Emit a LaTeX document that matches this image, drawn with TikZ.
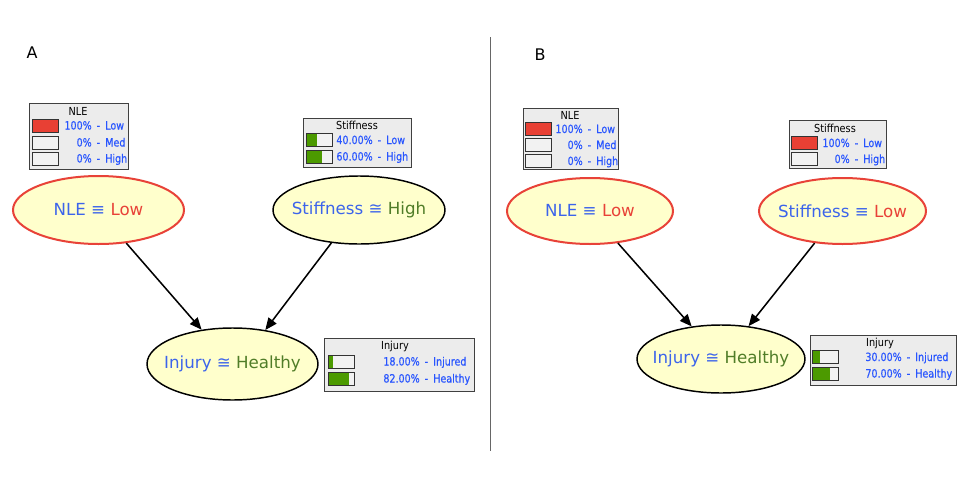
\documentclass[tikz,border=0pt]{standalone}
\usepackage{fontspec}
\setmainfont{DejaVu Sans}
\newfontfamily\boxfont[FakeStretch=0.84,FakeBold=0.5]{DejaVu Sans}
\newfontfamily\ttlfont[FakeStretch=0.88]{DejaVu Sans}
\usetikzlibrary{arrows.meta,calc,shapes.geometric}
\definecolor{nodefill}{RGB}{255,255,204}
\definecolor{lblblue}{RGB}{60,100,235}
\definecolor{lblred}{RGB}{232,66,56}
\definecolor{lblgreen}{RGB}{80,125,40}
\definecolor{txtblue}{RGB}{40,85,255}
\definecolor{barred}{RGB}{232,64,52}
\definecolor{bargreen}{RGB}{76,154,0}
\definecolor{boxbg}{RGB}{236,236,236}
\definecolor{barbg}{RGB}{242,242,242}
\def\px{*0.75pt}
\tikzset{
  bnode/.style={ellipse, draw=black, line width=1.1pt, fill=nodefill, inner sep=0pt,
    font=\fontsize{12.5}{15}\selectfont},
  evid/.style={bnode, draw=lblred, line width=1.5pt},
  pbox/.style={draw=black!75, fill=boxbg, line width=0.75pt, inner sep=0pt},
  barbox/.style 2 args={draw=black!80, fill=barbg, line width=0.75pt,
    minimum width=26\px, minimum height=13\px, inner sep=0pt,
    path picture={\fill[#1] (path picture bounding box.south west) rectangle
      ($(path picture bounding box.north west)!#2!(path picture bounding box.north east)$);}},
  ttl/.style={inner sep=0pt, text=black, font=\ttlfont\fontsize{8.3}{10}\selectfont},
  pct/.style={anchor=base east, inner sep=0pt, text=txtblue, font=\boxfont\fontsize{8.5}{10}\selectfont},
  lab/.style={anchor=base west, inner sep=0pt, text=txtblue, font=\boxfont\fontsize{8.5}{10}\selectfont},
  conn/.style={-{Triangle[length=9pt,width=7.5pt]}, line width=1.15pt, black},
  panel/.style={inner sep=0pt, font=\fontsize{12}{14}\selectfont},
}
% name, barx, y, color, frac, pctx, pct, label
\newcommand{\brow}[8]{%
  \node[barbox={#4}{#5}] (#1b) at (#2,#3) {};
  \node[pct] (#1p) at (#6,#3+4) {#7};
  \node[lab] (#1l) at (#6+4.5,#3+4) {-\hspace{0.45em}#8};
}
\newcommand{\elbl}[1]{\makebox[0pt]{#1}}
\begin{document}
\begin{tikzpicture}[x=0.75pt,y=-0.75pt]
\useasboundingbox (0,0) rectangle (976,486);

% panel labels and divider
\node[panel] (labA) at (32,53) {A};
\node[panel] (labB) at (540,55) {B};
\coordinate (div1) at (490,37);
\coordinate (div2) at (490,451);
\draw[black!60, line width=0.75pt] (div1) -- (div2);

% ===== Panel A =====
\node[evid, minimum width=171\px, minimum height=68\px] (nleA) at (98.5,210)
  {\elbl{{\color{lblblue}NLE ≡ }{\color{lblred}Low}}};
\node[bnode, minimum width=172\px, minimum height=68\px] (stiffA) at (359,210)
  {\elbl{{\color{lblblue}Stiffness ≅ }{\color{lblgreen}High}}};
\node[bnode, minimum width=171\px, minimum height=72\px] (injA) at (232.5,364)
  {\elbl{{\color{lblblue}Injury ≅ }{\color{lblgreen}Healthy}}};
\draw[conn] (nleA.-50) -- (injA.132);
\draw[conn] (stiffA.-130.5) -- (injA.46);

% NLE box A
\node[pbox, minimum width=99\px, minimum height=66\px] (nleAbox) at (78.5,136) {};
\node[ttl] (nleAt) at (78,111) {NLE};
\brow{nleA1}{45}{125.5}{barred}{1}{92}{100\%}{Low}
\brow{nleA2}{45}{142.5}{barred}{0}{92}{0\%}{Med}
\brow{nleA3}{45}{158.5}{barred}{0}{92}{0\%}{High}

% Stiffness box A
\node[pbox, minimum width=108\px, minimum height=49\px] (stiffAbox) at (357,142.5) {};
\node[ttl] (stiffAt) at (357,125) {Stiffness};
\brow{stiffA1}{319.5}{140}{bargreen}{0.4}{373}{40.00\%}{Low}
\brow{stiffA2}{319.5}{156.5}{bargreen}{0.6}{373}{60.00\%}{High}

% Injury box A
\node[pbox, minimum width=150\px, minimum height=53\px] (injAbox) at (399,364.5) {};
\node[ttl] (injAt) at (395,346) {Injury};
\brow{injA1}{341}{361.5}{bargreen}{0.18}{420}{18.00\%}{Injured}
\brow{injA2}{341}{378.5}{bargreen}{0.82}{420}{82.00\%}{Healthy}

% ===== Panel B =====
\node[evid, minimum width=166\px, minimum height=66\px] (nleB) at (590,211)
  {\elbl{{\color{lblblue}NLE ≡ }{\color{lblred}Low}}};
\node[evid, minimum width=167\px, minimum height=66\px] (stiffB) at (842.5,211)
  {\elbl{{\color{lblblue}Stiffness ≡ }{\color{lblred}Low}}};
\node[bnode, minimum width=168\px, minimum height=68\px] (injB) at (721,359)
  {\elbl{{\color{lblblue}Injury ≅ }{\color{lblgreen}Healthy}}};
\draw[conn] (nleB.-49) -- (injB.132);
\draw[conn] (stiffB.-131) -- (injB.50);

% NLE box B
\node[pbox, minimum width=95\px, minimum height=61\px] (nleBbox) at (570.5,138.5) {};
\node[ttl] (nleBt) at (570,115) {NLE};
\brow{nleB1}{538}{129}{barred}{1}{583}{100\%}{Low}
\brow{nleB2}{538}{145}{barred}{0}{583}{0\%}{Med}
\brow{nleB3}{538}{161}{barred}{0}{583}{0\%}{High}

% Stiffness box B
\node[pbox, minimum width=97\px, minimum height=48\px] (stiffBbox) at (837.5,144) {};
\node[ttl] (stiffBt) at (835,128) {Stiffness};
\brow{stiffB1}{804.5}{143}{barred}{1}{850}{100\%}{Low}
\brow{stiffB2}{804.5}{159}{barred}{0}{850}{0\%}{High}

% Injury box B
\node[pbox, minimum width=146\px, minimum height=50\px] (injBbox) at (883,360) {};
\node[ttl] (injBt) at (880,343) {Injury};
\brow{injB1}{825}{357}{bargreen}{0.3}{902}{30.00\%}{Injured}
\brow{injB2}{825}{373.5}{bargreen}{0.7}{902}{70.00\%}{Healthy}
\end{tikzpicture}
\end{document}
